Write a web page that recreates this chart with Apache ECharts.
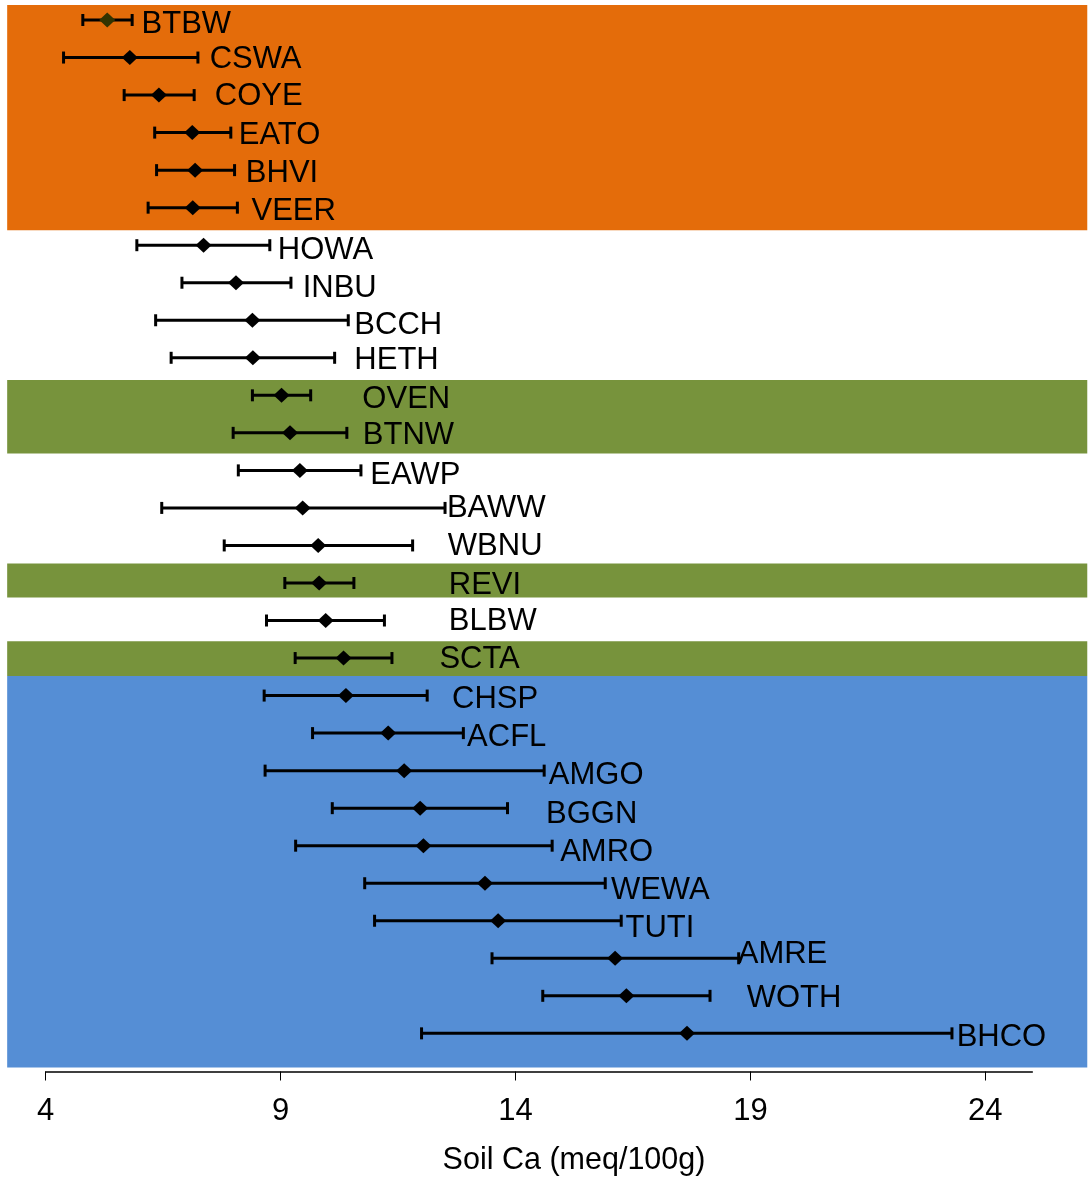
<!DOCTYPE html>
<html><head><meta charset="utf-8">
<script src="https://cdn.jsdelivr.net/npm/echarts@6/dist/echarts.min.js"></script>
<style>html,body{margin:0;padding:0;background:#fff}#c{width:1089px;height:1185px}</style>
</head><body><div id="c"></div>
<script>
// ---- data ----
const species = ['BTBW','CSWA','COYE','EATO','BHVI','VEER','HOWA','INBU','BCCH','HETH','OVEN','BTNW','EAWP','BAWW','WBNU','REVI','BLBW','SCTA','CHSP','ACFL','AMGO','BGGN','AMRO','WEWA','TUTI','AMRE','WOTH','BHCO'];
const lower = [4.79,4.38,5.67,6.32,6.36,6.18,5.94,6.90,6.34,6.67,8.40,7.99,8.10,6.47,7.80,9.09,8.70,9.31,8.65,9.68,8.67,10.10,9.32,10.79,11.00,13.50,14.58,12.00];
const mean  = [5.31,5.79,6.41,7.12,7.18,7.13,7.36,8.05,8.40,8.41,9.02,9.20,9.41,9.47,9.80,9.82,9.96,10.34,10.39,11.29,11.63,11.97,12.04,13.35,13.63,16.12,16.36,17.65];
const upper = [5.84,7.24,7.16,7.94,8.02,8.08,8.77,9.22,10.44,10.15,9.64,10.41,10.71,12.50,11.81,10.56,11.21,11.37,12.12,12.89,14.61,13.83,14.78,15.91,16.25,18.75,18.14,23.29];
const xTicks = [4, 9, 14, 19, 24];
const axisTitle = 'Soil Ca (meq/100g)';

// ---- layout helpers (not data) ----
const labelAt = [6.04,7.49,7.60,8.11,8.26,8.38,8.94,9.47,10.57,10.57,10.74,10.75,10.91,12.54,12.56,12.58,12.58,12.38,12.65,12.97,14.71,14.65,14.95,16.03,16.34,18.73,18.92,23.39];
const labelNudge = [0.04,-0.02,-0.03,0,0,0.02,0.05,0.07,0.06,0,0.02,-0.02,0.06,-0.07,-0.05,-0.01,-0.05,-0.03,0.02,0.04,0.04,0.08,0.1,0.11,0.13,-0.18,0,0.02];
const bandFrom = [-0.4, 9.59, 14.48, 16.55, 17.48];
const bandTo   = [5.6, 11.55, 15.39, 17.48, 27.91];
const bandColors = ['#E46C0A','#77933C','#77933C','#77933C','#558ED5'];
const bandSpan = [3.18, 26.17];
const FONT = "'Liberation Sans', Arial, sans-serif";

const chart = echarts.init(document.getElementById('c'), null, {renderer:'canvas'});

const option = {
  animation: false,
  backgroundColor: '#ffffff',
  grid: {left: 45.7, right: 56.7, top: 5, bottom: 117.5, containLabel: false},
  xAxis: {
    type: 'value', min: 4, max: 25,
    offset: 4, z: 10,
    axisLine: {show: true, onZero: false, lineStyle: {color: '#000', width: 1.5}},
    axisTick: {show: true, length: 9, inside: false, customValues: xTicks, lineStyle: {color: '#000', width: 1}},
    axisLabel: {show: true, customValues: xTicks, fontSize: 31, fontFamily: FONT, color: '#000', margin: 24},
    splitLine: {show: false}
  },
  yAxis: {
    type: 'value', min: -0.4, max: 27.91, inverse: true, show: false,
    splitLine: {show: false}
  },
  graphic: [{
    type: 'text', x: 574, y: 1161, z: 100,
    style: {text: axisTitle, fontSize: 30.5, fontFamily: FONT, fill: '#000', align: 'center', verticalAlign: 'middle'}
  }],
  series: [
    {
      type: 'custom', name: 'bands', clip: false, z: 1, silent: true,
      data: bandFrom.map((f, i) => [f, bandTo[i], i]),
      encode: {x: -1, y: -1},
      renderItem: function (params, api) {
        const i = params.dataIndex;
        const p0 = api.coord([bandSpan[0], bandFrom[i]]);
        const p1 = api.coord([bandSpan[1], bandTo[i]]);
        return {type: 'rect', shape: {x: p0[0], y: p0[1], width: p1[0] - p0[0], height: p1[1] - p0[1]},
                style: {fill: bandColors[i]}};
      }
    },
    {
      type: 'custom', name: 'ci', clip: false, z: 3, silent: true,
      data: species.map((s, i) => [lower[i], upper[i], i]),
      encode: {x: [0, 1], y: 2},
      renderItem: function (params, api) {
        const i = params.dataIndex;
        const a = api.coord([lower[i], i]);
        const b = api.coord([upper[i], i]);
        const h = 6;
        const st = {stroke: '#000', lineWidth: 3};
        return {type: 'group', children: [
          {type: 'line', shape: {x1: a[0], y1: a[1], x2: b[0], y2: b[1]}, style: st},
          {type: 'line', shape: {x1: a[0], y1: a[1] - h, x2: a[0], y2: a[1] + h}, style: st},
          {type: 'line', shape: {x1: b[0], y1: b[1] - h, x2: b[0], y2: b[1] + h}, style: st}
        ]};
      }
    },
    {
      type: 'scatter', name: 'mean', z: 5, silent: true,
      symbol: 'diamond', symbolSize: [16, 15],
      data: mean.map((m, i) => ({value: [m, i], itemStyle: {color: i === 0 ? '#333300' : '#000000', opacity: 1}}))
    },
    {
      type: 'custom', name: 'labels', clip: false, z: 6, silent: true,
      data: species.map((s, i) => [labelAt[i], i]),
      encode: {x: 0, y: 1},
      renderItem: function (params, api) {
        const i = params.dataIndex;
        const p = api.coord([labelAt[i], i + labelNudge[i]]);
        return {type: 'text', x: p[0], y: p[1] + 3,
                style: {text: species[i], fontSize: 31, fontFamily: FONT, fill: '#000',
                        align: 'left', verticalAlign: 'middle'}};
      }
    }
  ]
};
chart.setOption(option);
</script>
</body></html>
